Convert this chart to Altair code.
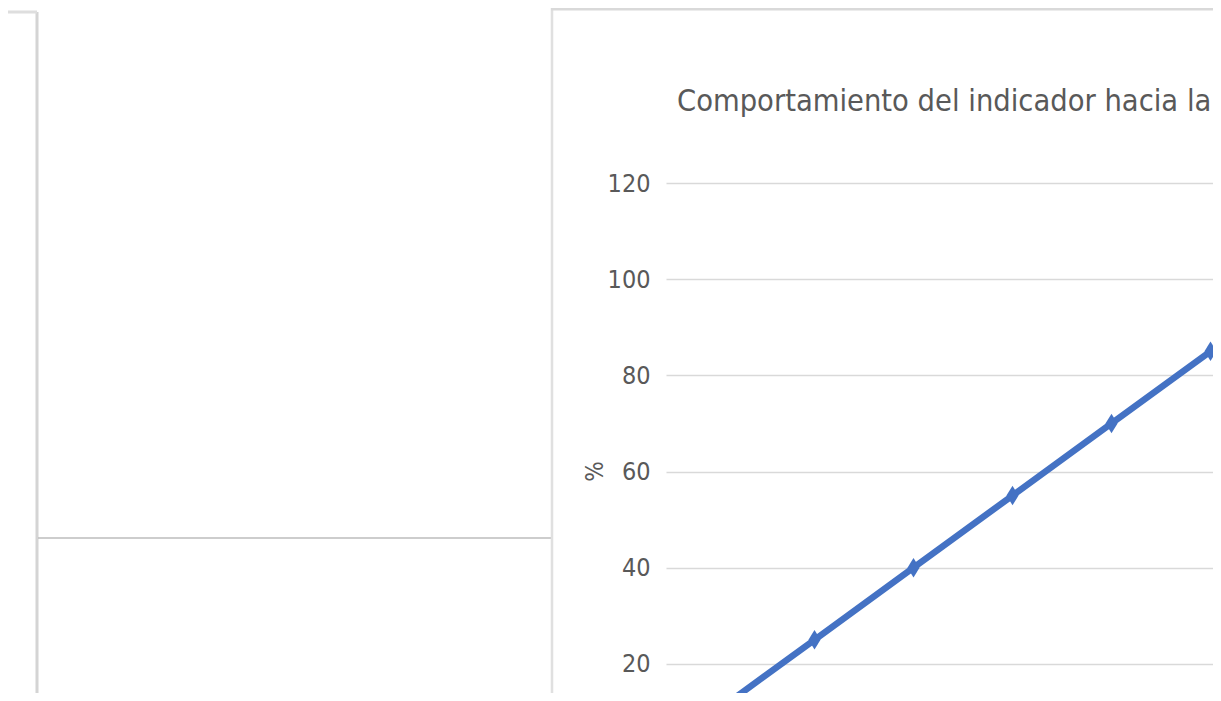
import altair as alt
import pandas as pd

# Data (x-axis labels are cropped off in the reference)
periodos = ["1", "2", "3", "4", "5", "6", "7"]
valores = [10, 25, 40, 55, 70, 85, 100]
y_ticks = [0, 20, 40, 60, 80, 100, 120]
titulo = "Comportamiento del indicador hacia la meta"

df = pd.DataFrame({"periodo": periodos, "valor": valores})

FONT = "Liberation Sans Narrow, DejaVu Sans Condensed, Liberation Sans, sans-serif"
GRAY_TXT = "#595959"
BLUE = "#4472C4"

x_enc = alt.X("periodo:N", sort=periodos,
              scale=alt.Scale(paddingInner=0, paddingOuter=0),
              axis=None)
y_enc = alt.Y("valor:Q",
              scale=alt.Scale(domain=[0, 120], nice=False),
              axis=alt.Axis(values=y_ticks, title="%", grid=True,
                            gridColor="#d9d9d9", gridWidth=1.5,
                            domain=False, ticks=False,
                            labelFont=FONT, labelFontSize=25,
                            labelColor=GRAY_TXT, labelPadding=16,
                            titleFont=FONT, titleFontSize=24,
                            titleFontWeight="normal", titleColor=GRAY_TXT,
                            titleX=-71, titleY=288, titleAngle=270,
                            titleAlign="center", titleBaseline="middle"))

base = alt.Chart(df)
line = base.mark_line(color=BLUE, strokeWidth=6.5).encode(x=x_enc, y=y_enc)
pts = base.mark_point(shape="M0,-1L0.62,0L0,1L-0.62,0Z", filled=True,
                      color=BLUE, size=380, opacity=1).encode(x=x_enc, y=y_enc)

one = alt.Data(values=[{"k": 1}])


def rule(x, x2, y, y2, color, w):
    return alt.Chart(one).mark_rule(color=color, strokeWidth=w).encode(
        x=alt.value(x), x2=alt.value(x2), y=alt.value(y), y2=alt.value(y2))


deco = [
    rule(-629, -629, -171, 560, "#d4d4d4", 3),
    rule(-662, -629, -171, -171, "#dedede", 3),
    rule(-628, -115, 355, 355, "#bdbdbd", 1.5),
    rule(-114, -114, -175, 560, "#e0e0e0", 2.5),
    rule(-115, 800, -174, -174, "#d9d9d9", 3),
]

title = alt.Chart(alt.Data(values=[{"t": titulo}])).mark_text(
    align="left", baseline="alphabetic", font=FONT, fontSize=30.5,
    color=GRAY_TXT).encode(x=alt.value(11), y=alt.value(-72), text="t:N")

chart = alt.layer(*deco, line, pts, title).properties(
    width=693, height=577,
    autosize=alt.AutoSizeParams(type="none"),
    padding={"left": 658, "top": 175, "right": -146, "bottom": -67},
    background="white",
).configure_view(stroke=None, strokeWidth=0)

chart.save("out.html", embed_options={"renderer": "svg", "actions": False})
